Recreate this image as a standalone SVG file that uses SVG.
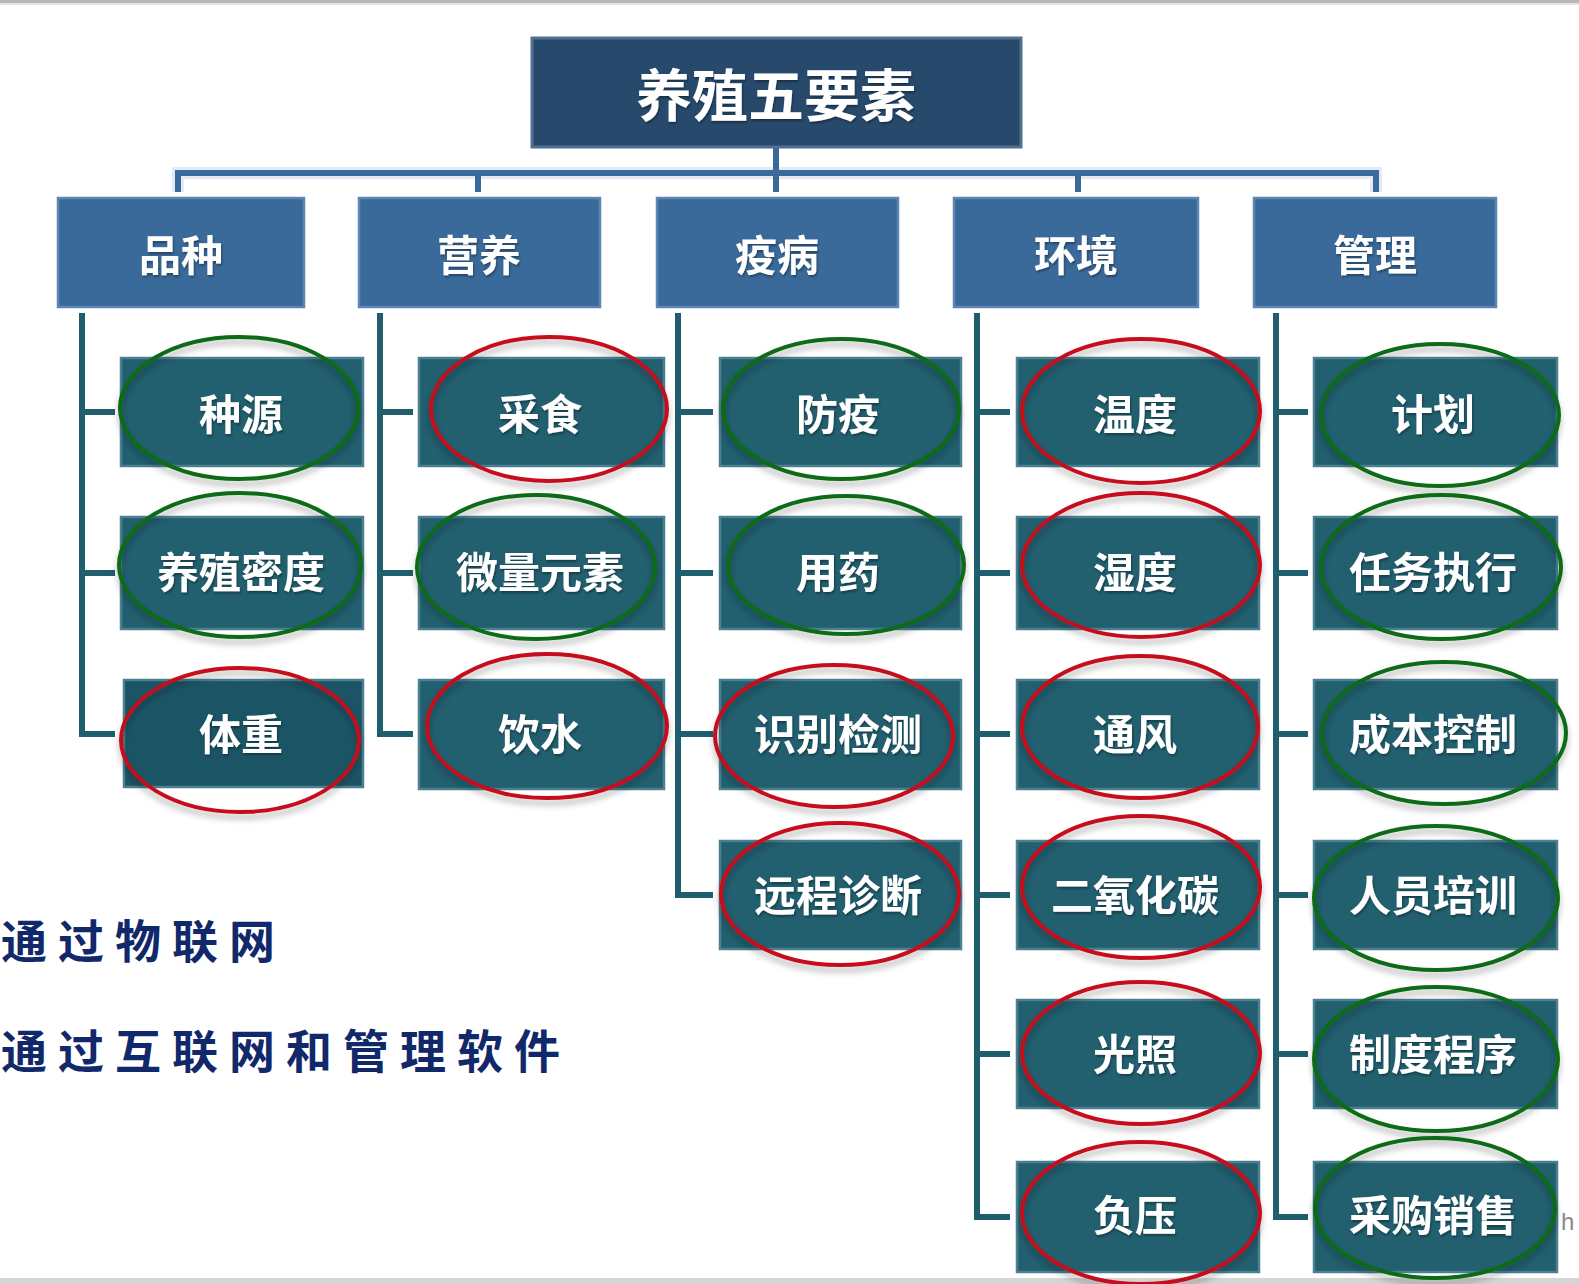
<svg xmlns="http://www.w3.org/2000/svg" width="1579" height="1284" viewBox="0 0 1579 1284">
<defs>
<filter id="sh" x="-20%" y="-20%" width="140%" height="150%">
<feDropShadow dx="0" dy="5" stdDeviation="3" flood-color="#000" flood-opacity="0.3"/>
</filter>
<filter id="ts" x="-10%" y="-10%" width="120%" height="130%">
<feDropShadow dx="1" dy="2" stdDeviation="1" flood-color="#000" flood-opacity="0.35"/>
</filter>
</defs>
<style>
.root{fill:#274a6c;stroke:#51708f;stroke-width:3}
.l1{fill:#3a6a9a;stroke:#5d87b2;stroke-width:2.5}
.ch{fill:#225f6f;stroke:#4b8090;stroke-width:2.5}
.t{font-family:"Noto Sans CJK SC","Noto Sans",sans-serif;fill:#fff;text-anchor:middle;dominant-baseline:central;font-weight:bold;filter:url(#ts)}
.tr{font-size:56px}
.t1{font-size:42px}
.tc{font-size:42px}
.g{fill:none;stroke:#0c6b15;stroke-width:4;filter:url(#sh)}
.r{fill:none;stroke:#c5101f;stroke-width:4;filter:url(#sh)}
.top{fill:none;stroke:#3a6a9c;stroke-width:6}
.topsh{fill:none;stroke:#e3eaf2;stroke-width:12}
.cl{fill:none;stroke:#1f5e6d;stroke-width:6}
.note{font-family:"Noto Sans CJK SC",sans-serif;font-size:46px;font-weight:bold;fill:#11296a;letter-spacing:11px;dominant-baseline:central}
</style>
<rect x="0" y="0" width="1579" height="1284" fill="#fff"/>
<rect x="0" y="0" width="1579" height="3" fill="#b8b8b8"/>
<rect x="0" y="3" width="1579" height="2" fill="#e4e4e4"/>
<rect x="0" y="1278" width="1579" height="6" fill="#d6d6d6"/>

<g id="connectors">
<path class="topsh" d="M178,192 V173 H1376 V192"/>
<path class="top" d="M776,147 V192 M178,192 V173 H1376 V192 M478,173 V192 M1078,173 V192"/>
<path class="cl" d="M82,313 V734 H115 M82,412 H115 M82,573 H115"/>
<path class="cl" d="M380,313 V734 H413 M380,412 H413 M380,573 H413"/>
<path class="cl" d="M678,313 V895 H713 M678,412 H713 M678,573 H713 M678,734 H713"/>
<path class="cl" d="M977,313 V1217 H1010 M977,412 H1010 M977,573 H1010 M977,734 H1010 M977,895 H1010 M977,1054 H1010"/>
<path class="cl" d="M1276,313 V1217 H1308 M1276,412 H1308 M1276,573 H1308 M1276,734 H1308 M1276,895 H1308 M1276,1054 H1308"/>
</g>

<g id="root"><rect class="root" x="532" y="38" width="489" height="109"/><text class="t tr" x="776" y="91">养殖五要素</text></g>

<g id="n-pinzhong"><rect class="l1" x="58" y="198" width="246" height="109"/><text class="t t1" x="181" y="252">品种</text></g>
<g id="n-yingyang"><rect class="l1" x="359" y="198" width="241" height="109"/><text class="t t1" x="479" y="252">营养</text></g>
<g id="n-yibing"><rect class="l1" x="657" y="198" width="241" height="109"/><text class="t t1" x="777" y="252">疫病</text></g>
<g id="n-huanjing"><rect class="l1" x="954" y="198" width="244" height="109"/><text class="t t1" x="1076" y="252">环境</text></g>
<g id="n-guanli"><rect class="l1" x="1254" y="198" width="242" height="109"/><text class="t t1" x="1375" y="252">管理</text></g>

<g id="c-zhongyuan"><rect class="ch" x="121" y="358" width="242" height="108"/><text class="t tc" x="241" y="411">种源</text><ellipse class="g" cx="239" cy="408" rx="119" ry="71"/></g>
<g id="c-midu"><rect class="ch" x="121" y="517" width="242" height="112"/><text class="t tc" x="241" y="569">养殖密度</text><ellipse class="g" cx="240" cy="565" rx="121" ry="72"/></g>
<g id="c-tizhong"><rect class="ch" x="124" y="680" width="239" height="107" style="fill:#1b5565"/><text class="t tc" x="241" y="731">体重</text><ellipse class="r" cx="240" cy="740" rx="119" ry="72"/></g>

<g id="c-caishi"><rect class="ch" x="419" y="358" width="245" height="108"/><text class="t tc" x="540" y="411">采食</text><ellipse class="r" cx="549" cy="409" rx="118" ry="72"/></g>
<g id="c-weiliang"><rect class="ch" x="419" y="517" width="245" height="112"/><text class="t tc" x="540" y="569">微量元素</text><ellipse class="g" cx="536" cy="567" rx="119" ry="72"/></g>
<g id="c-yinshui"><rect class="ch" x="419" y="680" width="245" height="109"/><text class="t tc" x="540" y="731">饮水</text><ellipse class="r" cx="547" cy="726" rx="120" ry="72"/></g>

<g id="c-fangyi"><rect class="ch" x="720" y="358" width="241" height="108"/><text class="t tc" x="838" y="411">防疫</text><ellipse class="g" cx="841" cy="409" rx="118" ry="70"/></g>
<g id="c-yongyao"><rect class="ch" x="720" y="517" width="241" height="112"/><text class="t tc" x="838" y="569">用药</text><ellipse class="g" cx="846" cy="565" rx="118" ry="69"/></g>
<g id="c-shibie"><rect class="ch" x="720" y="680" width="241" height="109"/><text class="t tc" x="838" y="731">识别检测</text><ellipse class="r" cx="834" cy="736" rx="119" ry="71"/></g>
<g id="c-yuancheng"><rect class="ch" x="720" y="841" width="241" height="108"/><text class="t tc" x="838" y="892">远程诊断</text><ellipse class="r" cx="840" cy="894" rx="119" ry="71"/></g>

<g id="c-wendu"><rect class="ch" x="1017" y="358" width="242" height="108"/><text class="t tc" x="1135" y="411">温度</text><ellipse class="r" cx="1141" cy="411" rx="119" ry="72"/></g>
<g id="c-shidu"><rect class="ch" x="1017" y="517" width="242" height="112"/><text class="t tc" x="1135" y="569">湿度</text><ellipse class="r" cx="1141" cy="565" rx="119" ry="72"/></g>
<g id="c-tongfeng"><rect class="ch" x="1017" y="680" width="242" height="109"/><text class="t tc" x="1135" y="731">通风</text><ellipse class="r" cx="1140" cy="727" rx="118" ry="71"/></g>
<g id="c-co2"><rect class="ch" x="1017" y="841" width="242" height="108"/><text class="t tc" x="1135" y="892">二氧化碳</text><ellipse class="r" cx="1141" cy="887" rx="119" ry="71"/></g>
<g id="c-guangzhao"><rect class="ch" x="1017" y="1000" width="242" height="108"/><text class="t tc" x="1135" y="1051">光照</text><ellipse class="r" cx="1141" cy="1053" rx="119" ry="71"/></g>
<g id="c-fuya"><rect class="ch" x="1017" y="1162" width="242" height="110"/><text class="t tc" x="1135" y="1212">负压</text><ellipse class="r" cx="1141" cy="1213" rx="119" ry="71"/></g>

<g id="c-jihua"><rect class="ch" x="1314" y="358" width="243" height="108"/><text class="t tc" x="1433" y="411">计划</text><ellipse class="g" cx="1440" cy="415" rx="119" ry="71"/></g>
<g id="c-renwu"><rect class="ch" x="1314" y="517" width="243" height="112"/><text class="t tc" x="1433" y="569">任务执行</text><ellipse class="g" cx="1441" cy="567" rx="120" ry="72"/></g>
<g id="c-chengben"><rect class="ch" x="1314" y="680" width="243" height="109"/><text class="t tc" x="1433" y="731">成本控制</text><ellipse class="g" cx="1444" cy="733" rx="122" ry="71"/></g>
<g id="c-renyuan"><rect class="ch" x="1314" y="841" width="243" height="108"/><text class="t tc" x="1433" y="892">人员培训</text><ellipse class="g" cx="1436" cy="898" rx="122" ry="72"/></g>
<g id="c-zhidu"><rect class="ch" x="1314" y="1000" width="243" height="108"/><text class="t tc" x="1433" y="1051">制度程序</text><ellipse class="g" cx="1436" cy="1059" rx="122" ry="72"/></g>
<g id="c-caigou"><rect class="ch" x="1314" y="1162" width="243" height="110"/><text class="t tc" x="1433" y="1212">采购销售</text><ellipse class="g" cx="1435" cy="1208" rx="120" ry="70"/></g>

<text class="note" x="1" y="938">通过物联网</text>
<text class="note" x="1" y="1048">通过互联网和管理软件</text>
<text x="1561" y="1230" font-family="Liberation Sans, sans-serif" font-size="24" fill="#8a8a8a">h</text>
</svg>
